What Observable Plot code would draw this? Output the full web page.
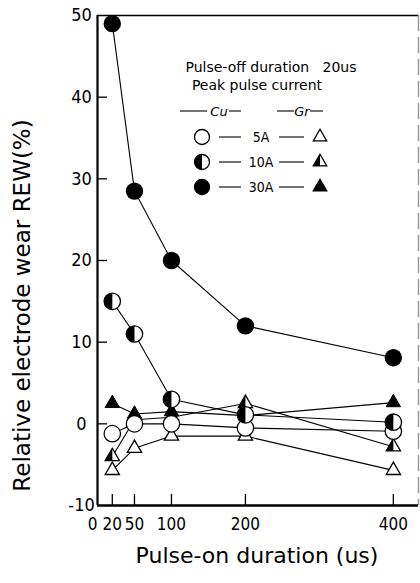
<!DOCTYPE html>
<html><head><meta charset="utf-8">
<script src="https://cdn.jsdelivr.net/npm/d3@7"></script>
<script src="https://cdn.jsdelivr.net/npm/@observablehq/plot@0.6"></script>
<style>
body{margin:0;background:#fff;}
#wrap{position:relative;width:420px;height:583px;}
#wrap svg{position:absolute;left:0;top:0;}
</style></head><body><div id="wrap"></div>
<script>
// ---- data ----
const pulseOn = [20, 50, 100, 200, 400];           // pulse-on duration (us)
const cu5  = [-1.2, 0.0, 0.0, -0.5, -0.9];
const cu10 = [15, 11, 3, 1.1, 0.2];
const cu30 = [49, 28.5, 20, 12, 8.1];
const gr5  = [-5.7, -3.0, -1.5, -1.5, -5.7];
const gr10 = [-4.0, 0.5, 0.8, 2.5, -2.8];
const gr30 = [2.5, 1.2, 1.5, 1.0, 2.6];
const currents = ["5A", "10A", "30A"];
const xOriginLabel = [0];
const xTickLabels = [20, 50, 100, 200, 400];
const xTickMarks = [20, 50, 100, 200, 400];
const yTickLabels = [-10, 0, 10, 20, 30, 40, 50];
const yTickMarks = [0, 10, 20, 30, 40];
const xTitle = "Pulse-on duration (us)";
const yTitle = "Relative electrode wear REW(%)";
const legendTitle1 = "Pulse-off duration\u00a0\u00a0 20us";
const legendTitle2 = "Peak pulse current";

const series = [
  {electrode: "Cu", current: "5A", values: cu5},
  {electrode: "Cu", current: "10A", values: cu10},
  {electrode: "Cu", current: "30A", values: cu30},
  {electrode: "Gr", current: "5A", values: gr5},
  {electrode: "Gr", current: "10A", values: gr10},
  {electrode: "Gr", current: "30A", values: gr30}
];
const rows = series.flatMap(s => s.values.map((v, i) => ({
  t: pulseOn[i], v, electrode: s.electrode, current: s.current, key: s.electrode + s.current
})));
const sel = (e, c) => rows.filter(d => d.electrode === e && d.current === c);

// ---- symbols ----
const halfCircle = {draw(ctx, size) {
  const r = Math.sqrt(size / Math.PI);
  ctx.moveTo(0, -r); ctx.arc(0, 0, r, -Math.PI / 2, Math.PI / 2, true); ctx.closePath();
}};
const halfTriangle = {draw(ctx, size) {
  const y = -Math.sqrt(size / (Math.sqrt(3) * 3));
  ctx.moveTo(0, 2 * y); ctx.lineTo(Math.sqrt(3) * y, -y); ctx.lineTo(0, -y); ctx.closePath();
}};

const font = "DejaVu Sans";
const fontC = "'DejaVu Sans Condensed', 'DejaVu Sans'";
const W = 420, H = 583, mL = 97, mR = 2, mT = 15, mB = 78;
const rC = 8.2, rT = 5.3;

const plot = Plot.plot({
  width: W, height: H,
  marginLeft: mL, marginRight: mR, marginTop: mT, marginBottom: mB,
  style: {fontFamily: font, fontSize: "18px", color: "black", background: "transparent"},
  x: {domain: [0, 434]},
  y: {domain: [-10, 50]},
  marks: [
    Plot.ruleX([434], {stroke: "#9a9a9a", strokeWidth: 1.5, strokeDasharray: "16,6"}),
    Plot.ruleY([50], {stroke: "black", strokeWidth: 1.5}),
    Plot.ruleY([-10], {stroke: "black", strokeWidth: 2.6}),
    Plot.ruleX([0], {stroke: "black", strokeWidth: 2.2}),
    Plot.tickY(yTickMarks, {y: d => d, insetRight: (W - mL - mR) - 10, stroke: "black", strokeWidth: 1.3}),
    Plot.tickX(xTickMarks, {x: d => d, insetTop: (H - mT - mB) - 11, stroke: "black", strokeWidth: 1.3}),
    Plot.axisX(xTickLabels, {tickSize: 0, tickPadding: 12, fontSize: 17, fontFamily: fontC, label: null}),
    Plot.axisX(xOriginLabel, {tickSize: 0, tickPadding: 12, fontSize: 17, fontFamily: fontC, label: null, dx: -5}),
    Plot.axisY(yTickLabels, {tickSize: 0, tickPadding: 16, textAnchor: "middle", fontSize: 18, fontFamily: fontC, label: null,
      tickFormat: d => d < 0 ? "-" + Math.abs(d) : String(d)}),
    Plot.line(rows, {x: "t", y: "v", z: "key", stroke: "black", strokeWidth: 1.1}),
    // Gr triangles
    Plot.dot(sel("Gr", "5A"), {x: "t", y: "v", symbol: "triangle", r: rT, fill: "white", stroke: "black", strokeWidth: 1.3}),
    Plot.dot(sel("Gr", "10A"), {x: "t", y: "v", symbol: "triangle", r: rT, fill: "white", stroke: "black", strokeWidth: 1.3}),
    Plot.dot(sel("Gr", "10A"), {x: "t", y: "v", symbol: halfTriangle, r: rT, fill: "black"}),
    Plot.dot(sel("Gr", "30A"), {x: "t", y: "v", symbol: "triangle", r: rT, fill: "black", stroke: "black", strokeWidth: 1}),
    // Cu circles
    Plot.dot(sel("Cu", "5A"), {x: "t", y: "v", r: rC, fill: "white", stroke: "black", strokeWidth: 1.3}),
    Plot.dot(sel("Cu", "10A"), {x: "t", y: "v", r: rC, fill: "white", stroke: "black", strokeWidth: 1.3}),
    Plot.dot(sel("Cu", "10A"), {x: "t", y: "v", symbol: halfCircle, r: rC, fill: "black"}),
    Plot.dot(sel("Cu", "30A"), {x: "t", y: "v", r: rC + 0.5, fill: "black"}),
    // axis titles
    Plot.text([yTitle], {frameAnchor: "left", textAnchor: "middle", rotate: -90, dx: -75, dy: 45, fontSize: 23, text: d => d}),
    Plot.text([xTitle], {frameAnchor: "bottom", dy: 57, dx: -1, fontSize: 22, text: d => d})
  ]
});
document.getElementById("wrap").appendChild(plot);

// ---- legend overlay ----
const lg = d3.select("#wrap").append("svg").attr("width", W).attr("height", H)
  .style("font-family", font).style("pointer-events", "none");
const txt = (s, x, y, size) => lg.append("text").attr("x", x).attr("y", y)
  .attr("text-anchor", "middle").attr("dominant-baseline", "central")
  .attr("font-size", size).attr("fill", "black").text(s);
const seg = (x1, x2, y) => lg.append("line").attr("x1", x1).attr("x2", x2).attr("y1", y).attr("y2", y)
  .attr("stroke", "black").attr("stroke-width", 1.1);
txt(legendTitle1, 271, 67, 14);
txt(legendTitle2, 257, 85, 14);
txt("Cu", 219, 111, 13).attr("font-style", "italic"); txt("Gr", 302, 111, 13).attr("font-style", "italic");
seg(180, 207, 111); seg(229, 241, 111); seg(277, 294, 111); seg(310, 323, 111);
const rowY = [137, 162, 187];
const sym = (type, r) => d3.symbol(type, Math.PI * r * r)();
currents.forEach((c, i) => {
  const y = rowY[i];
  seg(219, 241, y); seg(279, 304, y);
  txt(c, 261, y, 14).attr("font-family", fontC);
  // circle
  const gc = lg.append("g").attr("transform", `translate(202,${y})`);
  gc.append("circle").attr("r", 7.5).attr("fill", c === "30A" ? "black" : "white")
    .attr("stroke", "black").attr("stroke-width", 1.3);
  if (c === "10A") gc.append("path").attr("d", sym(halfCircle, 7.5)).attr("fill", "black");
  // triangle
  const gt = lg.append("g").attr("transform", `translate(320,${y})`);
  gt.append("path").attr("d", sym(d3.symbolTriangle, 5)).attr("fill", c === "30A" ? "black" : "white")
    .attr("stroke", "black").attr("stroke-width", 1.3);
  if (c === "10A") gt.append("path").attr("d", sym(halfTriangle, 5)).attr("fill", "black");
});
</script></body></html>
